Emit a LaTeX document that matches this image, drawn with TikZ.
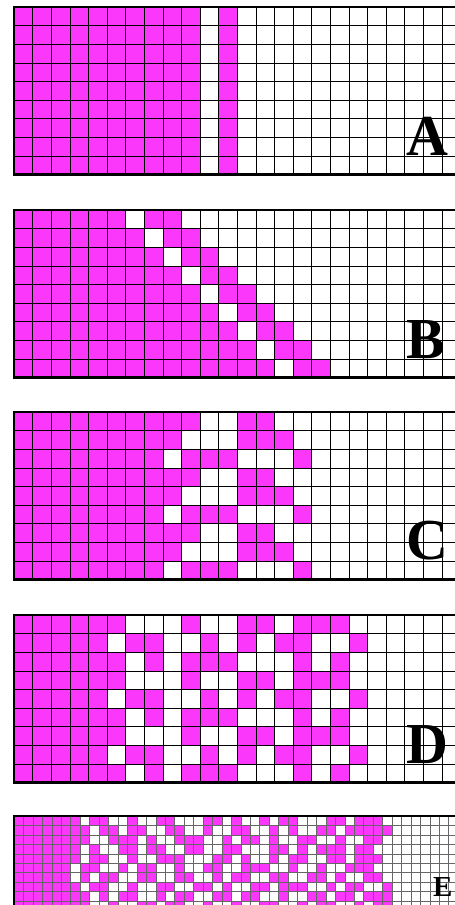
\documentclass[tikz,border=0pt]{standalone}
\usepackage{fontspec}
\setmainfont{Liberation Serif}
\definecolor{magfill}{RGB}{250,55,250}
\tikzset{
cell/.style={fill=magfill},
gridline/.style={draw=black,line width=0.6pt},
finegrid/.style={draw=black!60,line width=0.45pt},
frame/.style={draw=black,line width=2.2pt},
letter/.style={font=\fontsize{58}{58}\selectfont\bfseries,inner sep=0pt,anchor=base west}
}
\newcommand{\cellgrid}[4]{%
\foreach \i in {0,...,#1} \draw[#4] (\i*#3,0) -- (\i*#3,#2*#3);
\foreach \j in {0,...,#2} \draw[#4] (0,\j*#3) -- (#1*#3,\j*#3);
}
\newcommand{\fillcells}[2]{%
\foreach \r/\cols in {#2}
\foreach \c in \cols
\fill[cell] (\c*#1,\r*#1) rectangle ++(#1,#1);
}
\begin{document}
\begin{tikzpicture}[x=1pt,y=-1pt]
\useasboundingbox (0,0) rectangle (455,905);
\fill[white] (0,0) rectangle (455,905);
\clip (0,0) rectangle (455,905);

\begin{scope}[shift={(14,7)}]
\foreach \r in {0,...,8}
\foreach \c in {0,...,9,11}
\fill[cell] (\c*18.6,\r*18.6) rectangle ++(18.6,18.6);
\cellgrid{25}{9}{18.6}{gridline}
\draw[frame] (0,0) rectangle (25*18.6,9*18.6);
\node[letter] (labA) at (392,148) {A};
\end{scope}

\begin{scope}[shift={(14,210)}]
\fillcells{18.6}{0/{0,...,5,7,8},1/{0,...,6,8,9},2/{0,...,7,9,10},
3/{0,...,8,10,11},4/{0,...,9,11,12},5/{0,...,10,12,13},
6/{0,...,11,13,14},7/{0,...,12,14,15},8/{0,...,13,15,16}}
\cellgrid{25}{9}{18.6}{gridline}
\draw[frame] (0,0) rectangle (25*18.6,9*18.6);
\node[letter] (labB) at (392,148) {B};
\end{scope}

\begin{scope}[shift={(14,412)}]
\fillcells{18.6}{0/{0,...,9,12,13},1/{0,...,8,12,13,14},2/{0,...,7,9,10,11,15},
3/{0,...,9,12,13},4/{0,...,8,12,13,14},5/{0,...,7,9,10,11,15},
6/{0,...,9,12,13},7/{0,...,8,12,13,14},8/{0,...,7,9,10,11,15}}
\cellgrid{25}{9}{18.6}{gridline}
\draw[frame] (0,0) rectangle (25*18.6,9*18.6);
\node[letter] (labC) at (392,147) {C};
\end{scope}

\begin{scope}[shift={(14,615)}]
\fillcells{18.6}{0/{0,...,5,9,12,13,15,16,17},1/{0,...,4,6,7,10,12,14,15,18},2/{0,...,5,7,9,10,11,15,17},
3/{0,...,5,9,12,13,15,16,17},4/{0,...,4,6,7,10,12,14,15,18},5/{0,...,5,7,9,10,11,15,17},
6/{0,...,5,9,12,13,15,16,17},7/{0,...,4,6,7,10,12,14,15,18},8/{0,...,5,7,9,10,11,15,17}}
\cellgrid{25}{9}{18.6}{gridline}
\draw[frame] (0,0) rectangle (25*18.6,9*18.6);
\node[letter] (labD) at (392,148) {D};
\end{scope}

\begin{scope}[shift={(14,816)}]
\fillcells{9.45}{0/{0,...,6,8,9,12,15,16,20,21,23,26,28,29,33,34,36,37,38},
1/{0,...,7,9,10,12,13,16,17,20,23,24,27,29,32,33,35,36,37,38,39},
2/{0,...,7,10,11,12,14,17,18,19,22,24,25,27,30,31,34,37,38},
3/{0,...,6,8,11,12,14,15,18,19,22,23,27,28,30,32,33,34,36,37},
4/{0,...,6,8,9,12,15,16,17,21,22,24,27,29,30,33,34,36,37,38},
5/{0,...,5,7,8,11,13,14,17,20,21,24,25,26,29,32,35,36,37},
6/{0,...,5,7,9,10,13,14,17,18,21,23,24,27,28,31,32,34,37,38},
7/{0,...,6,8,9,12,15,16,19,20,22,25,26,28,29,30,33,35,36,39},
8/{0,...,7,9,11,12,15,17,18,21,22,24,25,28,31,32,34,35,37,38,39},
9/{0,...,7,10,13,14,16,17,20,23,26,27,30,32,33,36,38,39}}
\cellgrid{48}{10}{9.45}{finegrid}
\draw[frame,line width=1.4pt] (0,0) rectangle (48*9.45,10*9.45);
\node[letter,font=\fontsize{29}{29}\selectfont\bfseries] (labE) at (419,80) {E};
\end{scope}
\end{tikzpicture}
\end{document}
